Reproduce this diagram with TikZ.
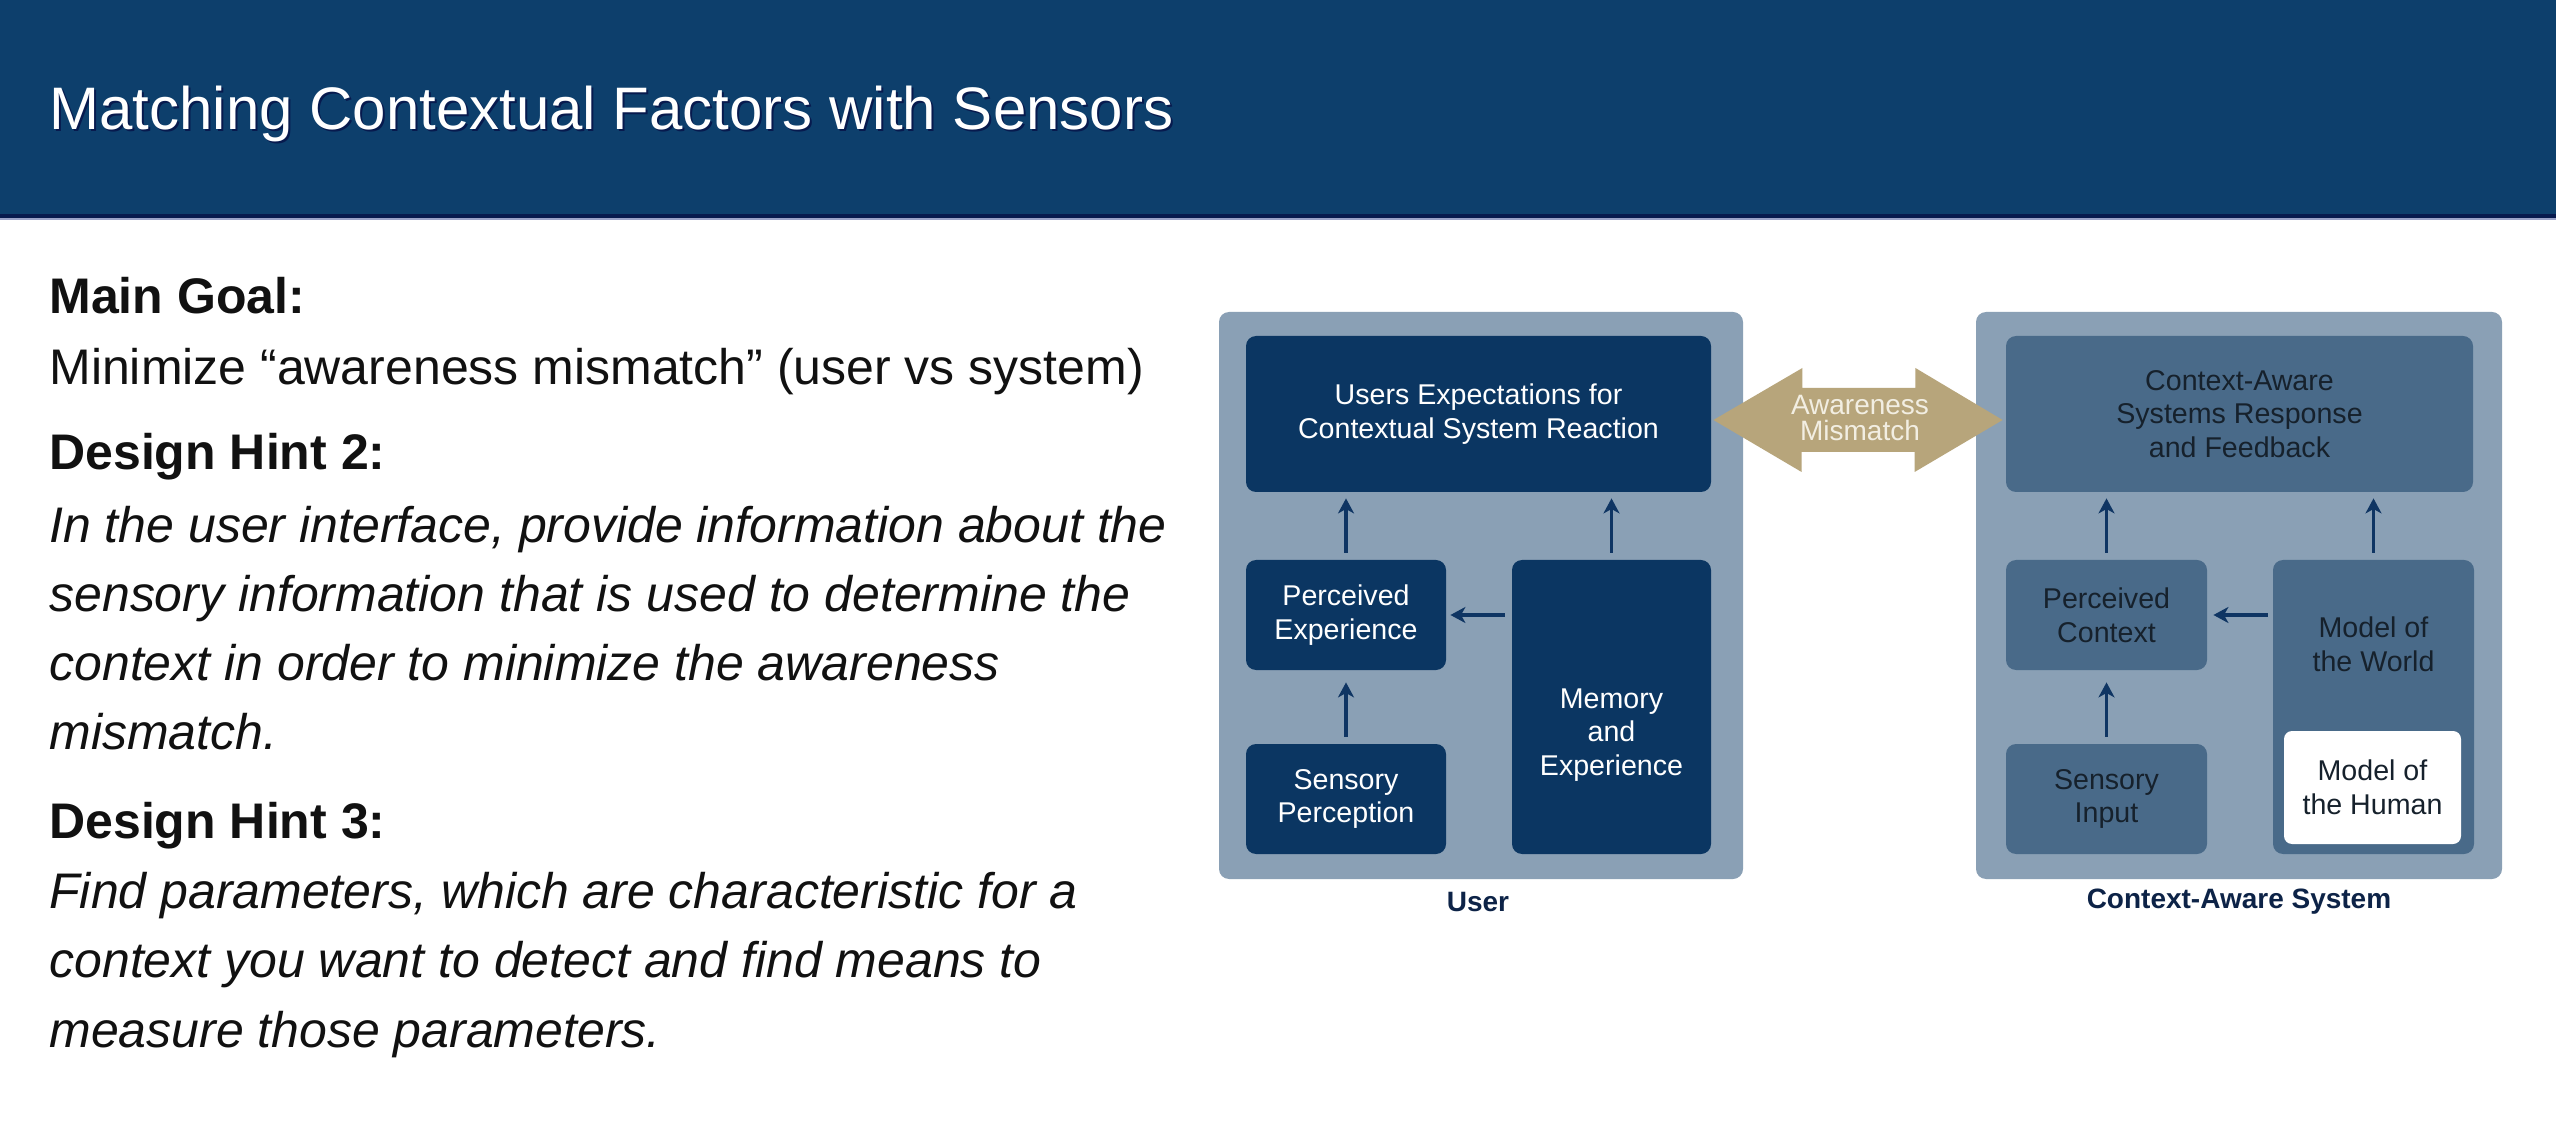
\documentclass[tikz,border=0pt]{standalone}
\usepackage{fontspec}
\setmainfont{Liberation Sans}
\usetikzlibrary{arrows.meta,calc}

\definecolor{headerblue}{HTML}{0D3F6C}
\definecolor{headerline}{HTML}{071A4E}
\definecolor{headerglow}{HTML}{9AA3C8}
\definecolor{panelblue}{HTML}{8AA0B5}
\definecolor{userblue}{HTML}{0B3662}
\definecolor{sysblue}{HTML}{496A89}
\definecolor{systext}{HTML}{16212C}
\definecolor{arrowblue}{HTML}{0F3563}
\definecolor{labelblue}{HTML}{0D2347}
\definecolor{mismatchtan}{HTML}{B7A57B}
\definecolor{mismatchtext}{HTML}{F2EEE2}
\definecolor{bodytext}{HTML}{111111}

\newcommand\diagfont{\fontsize{14.3}{16.8}\selectfont}
\newcommand\bodyfont{\fontsize{25}{34}\selectfont}

\tikzset{
  panel/.style={fill=panelblue, rounded corners=5pt},
  ubox/.style={fill=userblue, rounded corners=5pt, inner sep=0pt,
    text=white, font=\diagfont, align=center},
  sbox/.style={fill=sysblue, rounded corners=5pt, inner sep=0pt,
    text=systext, font=\diagfont, align=center},
  flow/.style={draw=arrowblue, line width=1.7pt,
    -{Stealth[length=7.5pt,width=8pt,inset=2.2pt]}},
  bodyline/.style={anchor=base west, inner sep=0pt, text=bodytext, font=\bodyfont},
  panellabel/.style={text=labelblue, font=\fontsize{14}{16}\selectfont\bfseries},
}

\begin{document}
\begin{tikzpicture}[x=0.5pt,y=-0.5pt]
\useasboundingbox (0,0) rectangle (2556,1128);
\fill[white] (0,0) rectangle (2556,1128);

% title bar
\fill[headerblue] (0,0) rectangle (2556,215);
\fill[headerline] (0,214) rectangle (2556,218);
\fill[headerglow] (0,218) rectangle (2556,220);
\node[anchor=base west, inner sep=0pt, text=headerline,
  font=\fontsize{30}{36}\selectfont] (titleshadow) at (51,132)
  {Matching Contextual Factors with Sensors};
\node[anchor=base west, inner sep=0pt, text=white,
  font=\fontsize{30}{36}\selectfont] (title) at (49,130)
  {Matching Contextual Factors with Sensors};

% left column text
\node[bodyline] (goalhead) at (49,314) {\bfseries Main Goal:};
\node[bodyline] (goal) at (49,385) {Minimize “awareness mismatch” (user vs system)};
\node[bodyline] (hinttwohead) at (49,470) {\bfseries Design Hint 2:};
\node[bodyline] (hinttwoa) at (49,543) {\itshape In the user interface, provide information about the};
\node[bodyline] (hinttwob) at (49,611) {\itshape sensory information that is used to determine the};
\node[bodyline] (hinttwoc) at (49,680) {\itshape context in order to minimize the awareness};
\node[bodyline] (hinttwod) at (49,749) {\itshape mismatch.};
\node[bodyline] (hintthreehead) at (49,838) {\bfseries Design Hint 3:};
\node[bodyline] (hintthreea) at (49,908) {\itshape Find parameters, which are characteristic for a};
\node[bodyline] (hintthreeb) at (49,977) {\itshape context you want to detect and find means to};
\node[bodyline] (hintthreec) at (49,1047) {\itshape measure those parameters.};

% panels
\fill[panel] (1219,312) rectangle (1743,879);
\fill[panel] (1976,312) rectangle (2502,879);

% user side
\node[ubox, minimum width=232.5pt, minimum height=78pt] (utop) at (1478.5,414)
  {Users Expectations for\\Contextual System Reaction};
\node[ubox, minimum width=100pt, minimum height=55pt] (pe) at (1346,615)
  {Perceived\\Experience};
\node[ubox, minimum width=100pt, minimum height=55pt] (sp) at (1346,799)
  {Sensory\\Perception};
\node[ubox, minimum width=99.5pt, minimum height=147pt] (mem) at (1611.5,707) {};
\node[text=white, font=\diagfont, align=center, inner sep=0pt] (memtext) at (1611.5,735)
  {Memory\\and\\Experience};

% system side
\node[sbox, minimum width=233.5pt, minimum height=78pt] (stop) at (2239.5,414)
  {Context-Aware\\Systems Response\\and Feedback};
\node[sbox, minimum width=100.5pt, minimum height=55pt] (pc) at (2106.5,615)
  {Perceived\\Context};
\node[sbox, minimum width=100.5pt, minimum height=55pt] (si) at (2106.5,799)
  {Sensory\\Input};
\node[sbox, minimum width=100.5pt, minimum height=147pt] (world) at (2373.5,707) {};
\node[text=systext, font=\diagfont, align=center, inner sep=0pt] (worldtext) at (2373.5,644)
  {Model of\\the World};
\node[fill=white, rounded corners=4pt, inner sep=0pt, minimum width=88.5pt,
  minimum height=56.5pt, text=systext, font=\diagfont, align=center] (human)
  at (2372.5,787.5) {Model of\\the Human};

% flows, user side
\draw[flow] ($(pe.north)+(0,-7)$) -- ($(utop.south -| pe.north)+(0,6)$);
\draw[flow] ($(sp.north)+(0,-7)$) -- ($(pe.south)+(0,12)$);
\draw[flow] ($(mem.north)+(0,-7)$) -- ($(utop.south -| mem.north)+(0,6)$);
\draw[flow] ($(pe.east -| mem.west)+(-7,0)$) -- ($(pe.east)+(4,0)$);

% flows, system side
\draw[flow] ($(pc.north)+(0,-7)$) -- ($(stop.south -| pc.north)+(0,6)$);
\draw[flow] ($(si.north)+(0,-7)$) -- ($(pc.south)+(0,12)$);
\draw[flow] ($(world.north)+(0,-7)$) -- ($(stop.south -| world.north)+(0,6)$);
\draw[flow] ($(pc.east -| world.west)+(-5,0)$) -- ($(pc.east)+(6,0)$);

% awareness mismatch double arrow between the two top boxes
\coordinate (mmleft) at ($(utop.east)+(2,6)$);
\coordinate (mmright) at ($(stop.west)+(-3,6)$);
\fill[mismatchtan] (mmleft) -- ++(89,-52) -- ++(0,20) -- ++(113,0) -- ++(0,-20)
  -- (mmright) -- ++(-88,52) -- ++(0,-20) -- ++(-113,0) -- ++(0,20) -- cycle;
\node[text=mismatchtext, font=\fontsize{14}{13}\selectfont, align=center, inner sep=0pt]
  (mmtext) at ($(mmleft)!0.5!(mmright)+(2,-2)$) {Awareness\\Mismatch};

% panel captions
\node[panellabel] (userlabel) at (1478,902) {User};
\node[panellabel] (syslabel) at (2239,902) {Context-Aware System};
\end{tikzpicture}
\end{document}
